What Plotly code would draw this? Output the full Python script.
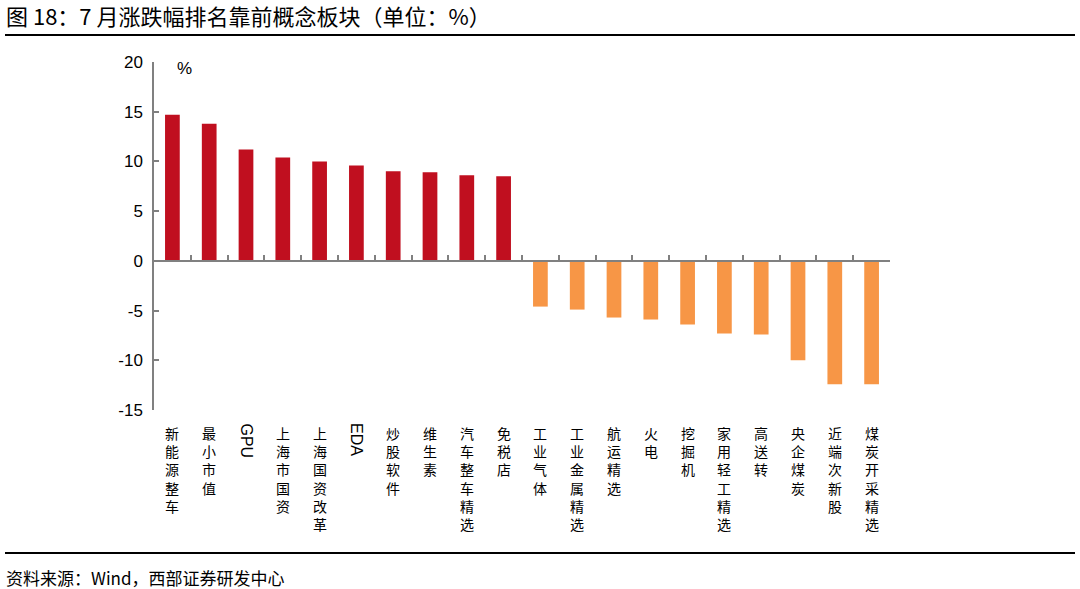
import plotly.graph_objects as go

categories = ["新能源整车", "最小市值", "GPU", "上海市国资", "上海国资改革", "EDA", "炒股软件", "维生素",
              "汽车整车精选", "免税店", "工业气体", "工业金属精选", "航运精选", "火电", "挖掘机",
              "家用轻工精选", "高送转", "央企煤炭", "近端次新股", "煤炭开采精选"]
values = [14.7, 13.8, 11.2, 10.4, 10.0, 9.6, 9.0, 8.9, 8.6, 8.5,
          -4.6, -4.9, -5.7, -5.9, -6.4, -7.3, -7.4, -10.0, -12.4, -12.4]
y_ticks = [20, 15, 10, 5, 0, -5, -10, -15]

RED = "#C00F1F"
ORANGE = "#F79646"
colors = [RED if v >= 0 else ORANGE for v in values]

CJK = "Noto Sans CJK SC"
LAT = "Liberation Sans, Arial"

L, R, T, B = 154, 190, 62, 179
W, H = 1080, 589
pw, ph = W - L - R, H - T - B


def px_x(px):
    return (px - L) / pw


def px_y(py):
    return (H - B - py) / ph


fig = go.Figure()
fig.add_trace(go.Bar(
    x=categories, y=values, marker=dict(color=colors, line=dict(width=0)),
    showlegend=False, hoverinfo="x+y"))

ymin, ymax = -15, 20

annotations = []
label_top = px_y(421)
for c in categories:
    if c.isascii():
        annotations.append(dict(x=c, y=label_top, xref="x", yref="paper", text=c, textangle=90,
                                showarrow=False, xanchor="center", yanchor="top",
                                font=dict(family=LAT, size=16, color="#000000")))
    else:
        annotations.append(dict(x=c, y=label_top, xref="x", yref="paper", text="<br>".join(list(c)),
                                showarrow=False, xanchor="center", yanchor="top",
                                font=dict(family=CJK, size=14, color="#000000")))

annotations.append(dict(x=px_x(184), y=px_y(68), xref="paper", yref="paper", text="%", showarrow=False,
                        xanchor="center", yanchor="middle",
                        font=dict(family=LAT, size=17, color="#000000")))
annotations.append(dict(x=px_x(4), y=px_y(15), xref="paper", yref="paper", xanchor="left", yanchor="middle",
                        text="图 18：7 月涨跌幅排名靠前概念板块（单位：%）", showarrow=False,
                        font=dict(family=CJK, size=22, color="#000000")))
annotations.append(dict(x=px_x(4), y=px_y(577), xref="paper", yref="paper", xanchor="left", yanchor="middle",
                        text="资料来源：Wind，西部证券研发中心", showarrow=False,
                        font=dict(family=CJK, size=17, color="#000000")))

shapes = [
    dict(type="line", xref="paper", yref="paper",
         x0=px_x(5), x1=px_x(1075), y0=px_y(35), y1=px_y(35),
         line=dict(color="#000000", width=2)),
    dict(type="line", xref="paper", yref="paper",
         x0=px_x(5), x1=px_x(1075), y0=px_y(553), y1=px_y(553),
         line=dict(color="#000000", width=2)),
]

fig.update_layout(
    width=W, height=H,
    margin=dict(l=L, r=R, t=T, b=B),
    paper_bgcolor="white", plot_bgcolor="white",
    bargap=0.6,
    xaxis=dict(type="category", range=[-0.5, len(categories) - 0.5],
               anchor="free", position=(0 - ymin) / (ymax - ymin),
               showline=True, linecolor="#808080", linewidth=1.5,
               ticks="inside", ticklen=5, tickcolor="#808080", tickwidth=1.5,
               tickson="boundaries", showticklabels=False, showgrid=False, zeroline=False),
    yaxis=dict(range=[ymin, ymax], tickvals=y_ticks, ticktext=[str(v) for v in y_ticks],
               showline=True, linecolor="#808080", linewidth=1.5,
               ticks="inside", ticklen=5, tickcolor="#808080", tickwidth=1.5,
               showgrid=False, zeroline=False,
               tickfont=dict(family=LAT, size=17, color="#000000"), ticklabelstandoff=6),
    annotations=annotations,
    shapes=shapes,
)

fig.write_html("out.html", config={"displayModeBar": False},
               post_script="document.body.style.margin='0';document.body.style.overflow='hidden';")
